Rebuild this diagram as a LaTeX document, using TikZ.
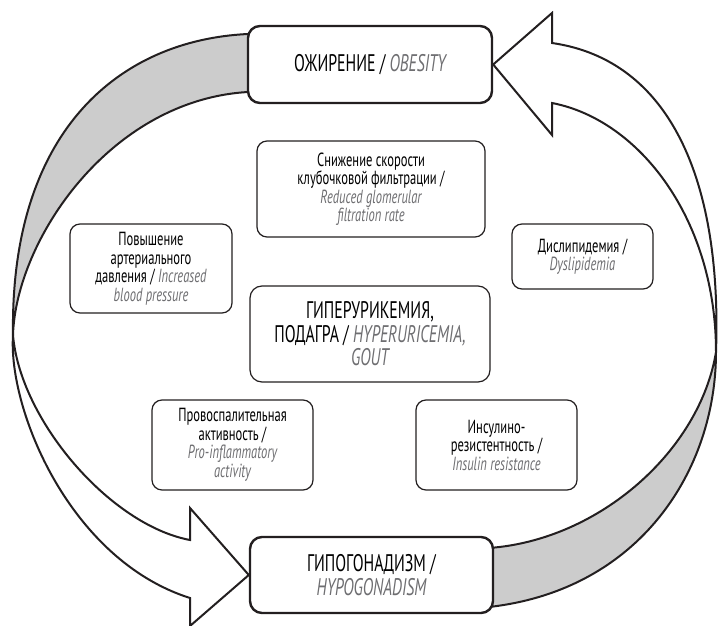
\documentclass[tikz,border=0pt]{standalone}
\usepackage{fontspec}
\setmainfont[FakeStretch=0.66]{PT Sans}
\usepackage{tikz}
\usetikzlibrary{positioning}
\usepackage{color}
\definecolor{bandgray}{RGB}{204,204,204}
\definecolor{engray}{RGB}{110,110,113}
\definecolor{ink}{RGB}{35,31,32}
\newcommand{\eng}[1]{\textcolor{engray}{\itshape #1}}

\begin{document}
\begin{tikzpicture}[x=1pt,y=-1pt]
\tikzstyle{mainbox}=[draw=ink, line width=2.4pt, rounded corners=12pt, fill=white, align=center, inner sep=0pt, font=\fontsize{24}{23.5}\selectfont]
\tikzstyle{factorbox}=[draw=ink, line width=1.2pt, rounded corners=10pt, fill=white, align=center, inner sep=0pt, font=\fontsize{19}{18.5}\selectfont]
\tikzstyle{band}=[draw=ink, line width=2pt, line join=round, fill=bandgray]
\tikzstyle{whitearrow}=[draw=ink, line width=2pt, line join=miter, fill=white]
\useasboundingbox (0,0) rectangle (721,626);
\draw[band] (252,34) -- (248,34) .. controls (120,40) and (10,130) .. (13,335) .. controls (16,240) and (110,100) .. (248,92) -- (252,92) -- cycle;
\draw[band] (489,548) .. controls (600,540) and (700,450) .. (716,352) .. controls (716,470) and (640,590) .. (489,607) -- cycle;
\node[mainbox, minimum width=244pt, minimum height=77pt] (obes) at (370,64.5) {ОЖИРЕНИЕ / \eng{OBESITY}};
\node[mainbox, minimum width=243pt, minimum height=76pt] (hypo) at (371.5,575) {ГИПОГОНАДИЗМ /\\\eng{HYPOGONADISM}};
\draw[whitearrow] (13,335) .. controls (20,420) and (110,525) .. (190,540) -- (190,508) -- (hypo.west) -- (190,626) -- (190,598) .. controls (70,560) and (8,410) .. (13,335) -- cycle;
\draw[whitearrow] (716,352) .. controls (722,180) and (670,60) .. (552,43) -- (552,13) -- (obes.east) -- (552,135) -- (552,103) .. controls (640,120) and (716,220) .. (716,352) -- cycle;
\node[factorbox, minimum width=228pt, minimum height=96pt] (gfr) at (371,189) {Снижение скорости\\клубочковой фильтрации /\\\eng{Reduced glomerular}\\\eng{filtration rate}};
\node[factorbox, minimum width=162pt, minimum height=89pt] (bp) at (151,268.5) {Повышение\\артериального\\давления / \eng{Increased}\\\eng{blood pressure}};
\node[factorbox, minimum width=141pt, minimum height=65pt] (lip) at (582.5,256.5) {Дислипидемия /\\\eng{Dyslipidemia}};
\node[mainbox, line width=1.2pt, minimum width=240pt, minimum height=96pt] (uric) at (370,334) {ГИПЕРУРИКЕМИЯ,\\ПОДАГРА / \eng{HYPERURICEMIA,}\\\eng{GOUT}};
\node[factorbox, minimum width=161pt, minimum height=90pt] (infl) at (232.5,445) {Провоспалительная\\активность /\\\eng{Pro-inflammatory}\\\eng{activity}};
\node[factorbox, minimum width=161pt, minimum height=90pt] (ins) at (496.5,445) {Инсулино-\\резистентность /\\\eng{Insulin resistance}};
\end{tikzpicture}
\end{document}
